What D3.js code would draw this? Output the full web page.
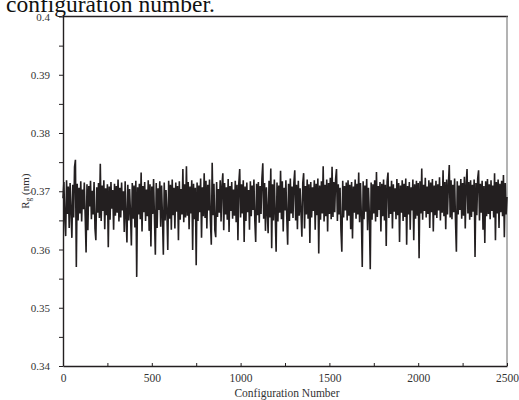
<!DOCTYPE html>
<html>
<head>
<meta charset="utf-8">
<script src="https://cdn.jsdelivr.net/npm/d3@7/dist/d3.min.js"></script>
<style>
  html, body { margin: 0; padding: 0; background: #fff; }
  svg { display: block; }
  text { font-family: "Liberation Serif", "DejaVu Serif", serif; }
</style>
</head>
<body>
<svg id="chart" width="519" height="400"></svg>
<script>
// ---- data ----
const captionText = "configuration number.";
const xTitle = "Configuration Number";
const yTitleMain = "R";
const yTitleSub = "g";
const yTitleUnit = " (nm)";
const xDomain = [0, 2500];
const yDomain = [0.34, 0.40];
const xTickValues = [0, 500, 1000, 1500, 2000, 2500];
const xTickLabels = ["0", "500", "1000", "1500", "2000", "2500"];
const xMinorTicks = [250, 750, 1250, 1750, 2250];
const yTickValues = [0.34, 0.35, 0.36, 0.37, 0.38, 0.39, 0.40];
const yTickLabels = ["0.34", "0.35", "0.36", "0.37", "0.38", "0.39", "0.4"];
const yMinorTicks = [0.345, 0.355, 0.365, 0.375, 0.385, 0.395];
const configStep = 5;
// Rg (nm), one value every configStep configurations
const rgValues = [
.3688,.3716,.3652,.3623,.3719,.3661,.3708,.3637,.3714,.3666,.3620,.3711,.3655,.3742,.3754,.3570,.3713,.3650,.3706,.3662,
.3717,.3648,.3703,.3669,.3715,.3657,.3595,.3712,.3633,.3709,.3674,.3718,.3652,.3701,.3660,.3716,.3636,.3616,.3707,.3663,
.3714,.3654,.3747,.3649,.3710,.3666,.3719,.3635,.3705,.3659,.3712,.3604,.3708,.3651,.3716,.3670,.3702,.3634,.3713,.3658,
.3709,.3663,.3720,.3648,.3706,.3655,.3715,.3667,.3700,.3630,.3717,.3657,.3612,.3711,.3650,.3704,.3662,.3607,.3714,.3653,
.3710,.3638,.3718,.3553,.3707,.3660,.3713,.3652,.3732,.3631,.3709,.3664,.3716,.3649,.3703,.3657,.3719,.3632,.3712,.3605,
.3708,.3661,.3721,.3654,.3591,.3714,.3637,.3705,.3668,.3717,.3639,.3710,.3656,.3591,.3715,.3650,.3702,.3663,.3599,.3718,
.3653,.3711,.3634,.3720,.3659,.3706,.3636,.3715,.3665,.3709,.3616,.3717,.3651,.3704,.3660,.3738,.3647,.3712,.3655,.3743,
.3658,.3716,.3635,.3708,.3662,.3719,.3599,.3713,.3652,.3706,.3573,.3715,.3649,.3710,.3664,.3722,.3620,.3707,.3657,.3731,
.3654,.3718,.3636,.3711,.3667,.3720,.3650,.3608,.3749,.3659,.3713,.3633,.3621,.3716,.3656,.3704,.3663,.3719,.3648,.3710,
.3731,.3633,.3714,.3660,.3707,.3651,.3721,.3630,.3709,.3666,.3716,.3653,.3703,.3658,.3718,.3647,.3711,.3616,.3714,.3738,
.3655,.3712,.3662,.3719,.3613,.3708,.3649,.3715,.3664,.3702,.3634,.3717,.3657,.3710,.3668,.3720,.3650,.3613,.3713,.3659,
.3716,.3646,.3709,.3661,.3722,.3748,.3653,.3714,.3632,.3707,.3665,.3628,.3718,.3655,.3739,.3602,.3712,.3650,.3720,.3660,
.3596,.3715,.3648,.3710,.3663,.3735,.3652,.3717,.3631,.3706,.3667,.3719,.3656,.3608,.3713,.3649,.3722,.3662,.3708,.3654,
.3715,.3736,.3650,.3711,.3635,.3718,.3658,.3705,.3664,.3622,.3714,.3731,.3636,.3709,.3660,.3720,.3653,.3712,.3611,.3716,
.3655,.3707,.3666,.3719,.3634,.3713,.3659,.3722,.3593,.3710,.3651,.3717,.3662,.3743,.3648,.3711,.3657,.3720,.3631,.3714,
.3661,.3723,.3652,.3742,.3656,.3716,.3664,.3721,.3738,.3649,.3712,.3660,.3706,.3633,.3596,.3718,.3655,.3709,.3667,.3715,
.3650,.3719,.3658,.3711,.3635,.3716,.3619,.3708,.3663,.3720,.3653,.3713,.3660,.3732,.3647,.3714,.3657,.3570,.3717,.3652,
.3710,.3665,.3721,.3633,.3706,.3659,.3566,.3715,.3651,.3712,.3662,.3719,.3648,.3733,.3656,.3709,.3668,.3716,.3631,.3713,
.3657,.3720,.3650,.3711,.3606,.3717,.3732,.3654,.3708,.3661,.3718,.3636,.3712,.3665,.3705,.3652,.3721,.3659,.3714,.3613,
.3710,.3663,.3719,.3649,.3713,.3656,.3722,.3608,.3709,.3660,.3716,.3634,.3707,.3667,.3720,.3616,.3712,.3653,.3718,.3658,
.3714,.3585,.3717,.3662,.3739,.3651,.3711,.3666,.3723,.3655,.3708,.3661,.3719,.3637,.3715,.3664,.3721,.3631,.3710,.3659,
.3718,.3654,.3712,.3667,.3724,.3650,.3709,.3663,.3736,.3657,.3716,.3635,.3720,.3660,.3713,.3745,.3655,.3719,.3652,.3711,
.3664,.3722,.3649,.3596,.3717,.3660,.3710,.3668,.3721,.3653,.3714,.3658,.3725,.3636,.3712,.3738,.3662,.3716,.3651,.3719,
.3656,.3711,.3665,.3720,.3587,.3714,.3659,.3722,.3736,.3650,.3713,.3663,.3718,.3634,.3709,.3611,.3717,.3657,.3721,.3661,
.3712,.3652,.3719,.3666,.3710,.3655,.3731,.3616,.3716,.3662,.3720,.3637,.3713,.3664,.3718,.3657,.3728,.3621,.3714,.3660,
.3690
];
const configs = rgValues.map((_, i) => i * configStep);

// ---- layout ----
const svg = d3.select("#chart");
const plot = { left: 63, right: 507, top: 16.5, bottom: 366 };
const x = d3.scaleLinear().domain(xDomain).range([plot.left, plot.right]);
const y = d3.scaleLinear().domain(yDomain).range([plot.bottom, plot.top]);
const ink = "#231f20";

// caption fragment at top (clipped by page edge)
svg.append("text")
  .attr("x", 6).attr("y", 11.5)
  .attr("font-size", "23.5px")
  .attr("fill", "#111")
  .text(captionText);

// frame: top black, right grey
svg.append("line")
  .attr("x1", plot.left).attr("x2", plot.right + 1)
  .attr("y1", plot.top).attr("y2", plot.top)
  .attr("stroke", ink).attr("stroke-width", 1.3);
svg.append("line")
  .attr("x1", plot.right).attr("x2", plot.right)
  .attr("y1", plot.top).attr("y2", plot.bottom)
  .attr("stroke", "#8a8a8a").attr("stroke-width", 1.3);

// data line
const line = d3.line()
  .x((d, i) => x(configs[i]))
  .y(d => y(d));
svg.append("path")
  .datum(rgValues)
  .attr("d", line)
  .attr("fill", "none")
  .attr("stroke", ink)
  .attr("stroke-width", 1.6)
  .attr("stroke-linejoin", "bevel");

// y axis
const yAxis = d3.axisLeft(y)
  .tickValues(yTickValues)
  .tickFormat((d, i) => yTickLabels[i])
  .tickSizeInner(4).tickSizeOuter(0).tickPadding(9);
const gy = svg.append("g").attr("transform", `translate(${plot.left},0)`).call(yAxis);
gy.select(".domain").attr("stroke", ink).attr("stroke-width", 1.4);
gy.selectAll(".tick line").attr("stroke", ink).attr("stroke-width", 1);
gy.selectAll(".tick text").attr("font-family", "Liberation Serif, serif").attr("font-size", "11px").attr("fill", "#333");
const yMinorAxis = d3.axisLeft(y).tickValues(yMinorTicks).tickFormat("").tickSizeInner(4).tickSizeOuter(0);
const gym = svg.append("g").attr("transform", `translate(${plot.left},0)`).call(yMinorAxis);
gym.select(".domain").remove();
gym.selectAll(".tick line").attr("stroke", ink).attr("stroke-width", 1);

// x axis
const xAxis = d3.axisBottom(x)
  .tickValues(xTickValues)
  .tickFormat((d, i) => xTickLabels[i])
  .tickSizeInner(-3).tickSizeOuter(0).tickPadding(8);
const gx = svg.append("g").attr("transform", `translate(0,${plot.bottom})`).call(xAxis);
gx.select(".domain").attr("stroke", ink).attr("stroke-width", 1.4);
gx.selectAll(".tick line").attr("stroke", ink).attr("stroke-width", 1);
gx.selectAll(".tick text").attr("font-family", "Liberation Serif, serif").attr("font-size", "11.5px").attr("fill", "#333");
const xMinorAxis = d3.axisBottom(x).tickValues(xMinorTicks).tickFormat("").tickSizeInner(-3).tickSizeOuter(0);
const gxm = svg.append("g").attr("transform", `translate(0,${plot.bottom})`).call(xMinorAxis);
gxm.select(".domain").remove();
gxm.selectAll(".tick line").attr("stroke", ink).attr("stroke-width", 1);

// axis titles
svg.append("text")
  .attr("x", 287).attr("y", 397)
  .attr("text-anchor", "middle")
  .attr("font-size", "11.5px")
  .attr("fill", "#333")
  .text(xTitle);

const yt = svg.append("text")
  .attr("transform", `translate(29,${(plot.top + plot.bottom) / 2}) rotate(-90)`)
  .attr("text-anchor", "middle")
  .attr("font-size", "11px")
  .attr("fill", "#333");
yt.append("tspan").text(yTitleMain);
yt.append("tspan").attr("font-size", "7.5px").attr("dy", "2").text(yTitleSub);
yt.append("tspan").attr("dy", "-2").text(yTitleUnit);
</script>
</body>
</html>
